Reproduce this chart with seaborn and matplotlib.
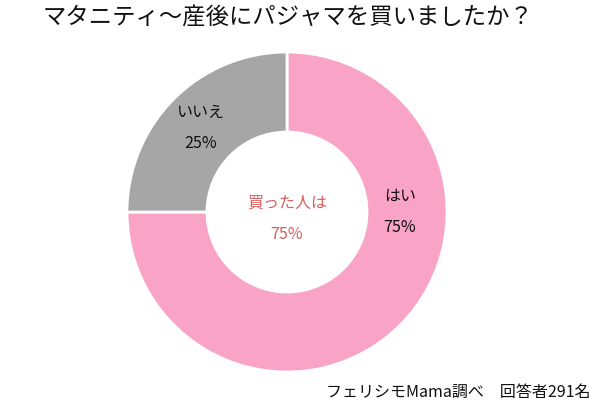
import matplotlib
matplotlib.use('Agg')
import matplotlib.pyplot as plt
import seaborn as sns

# データ
labels = ['はい', 'いいえ']
values = [75, 25]
colors = ['#F9A3C7', '#A6A6A6']
title = 'マタニティ～産後にパジャマを買いましたか？'
center_text = '買った人は'
source = 'フェリシモMama調べ　回答者291名'

sns.set_theme(style='white')
plt.rcParams['font.family'] = ['Noto Sans CJK JP', 'DejaVu Sans']

fig = plt.figure(figsize=(6, 4.12), dpi=100)
ax = fig.add_axes([127 / 600, 40 / 412, 320 / 600, 320 / 412])

wedges, _ = ax.pie(values, colors=colors, startangle=90, counterclock=False,
                   radius=1, wedgeprops=dict(width=0.5, edgecolor='white', linewidth=2))
ax.set_xlim(-1, 1)
ax.set_ylim(-1, 1)
ax.set_aspect('equal')

# ラベル
fs = 11.5
ax.text(0.706, 0.10, labels[0], ha='center', va='center', fontsize=fs, color='#111111')
ax.text(0.706, -0.095, f'{values[0]}%', ha='center', va='center', fontsize=fs, color='#111111')
ax.text(-0.54, 0.625, labels[1], ha='center', va='center', fontsize=fs, color='#111111')
ax.text(-0.54, 0.43, f'{values[1]}%', ha='center', va='center', fontsize=fs, color='#111111')

ax.text(0.0, 0.056, center_text, ha='center', va='center', fontsize=fs, color='#D85E5E')
ax.text(0.0, -0.14, f'{values[0]}%', ha='center', va='center', fontsize=fs, color='#D85E5E')

fig.text(288 / 600, 1 - 18 / 412, title, ha='center', va='center', fontsize=16.8, color='#111111')
fig.text(590 / 600, 1 - 392 / 412, source, ha='right', va='center', fontsize=11.5, color='#111111')

fig.savefig('out.png', dpi=100, facecolor='white')
